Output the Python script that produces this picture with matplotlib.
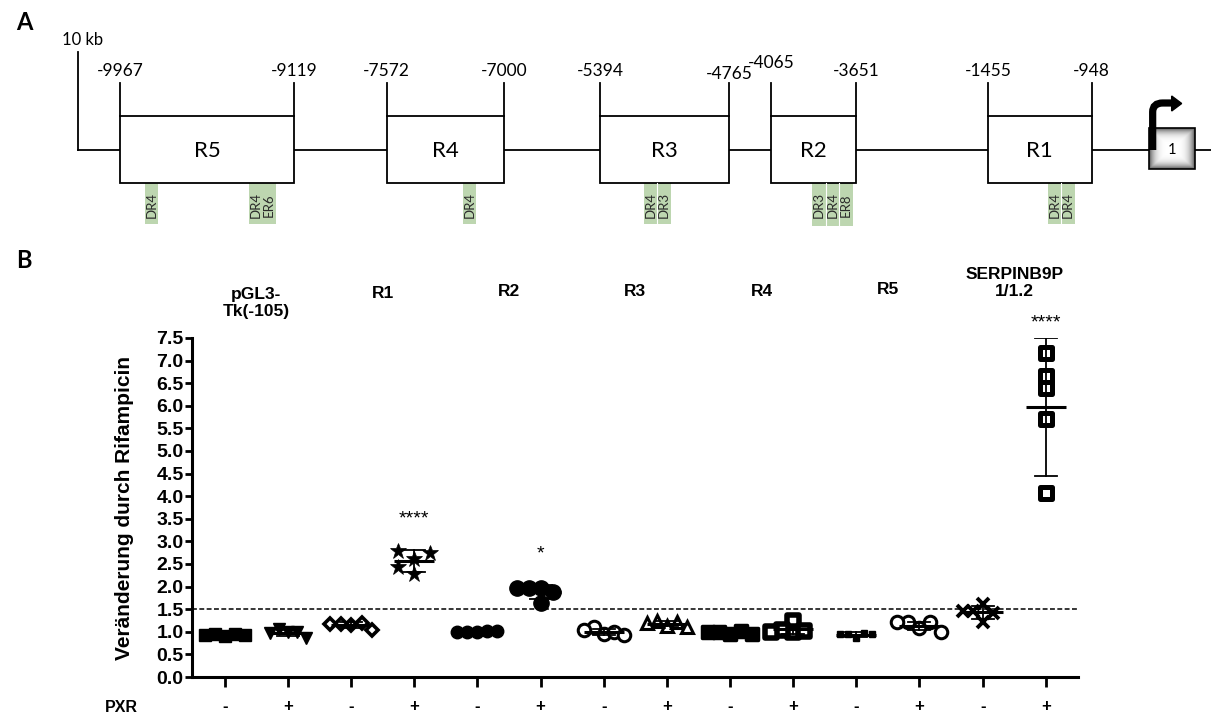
import numpy as np
import matplotlib
matplotlib.use("Agg")
import matplotlib.pyplot as plt
from matplotlib.patches import Rectangle, Polygon, PathPatch
from matplotlib.path import Path
from matplotlib.markers import MarkerStyle
from matplotlib.transforms import blended_transform_factory

# ------------------------------------------------------------------ data
# Panel A: promoter regions (bp relative to transcription start)
region_names = ["R5", "R4", "R3", "R2", "R1"]
region_starts = [-9967, -7572, -5394, -4065, -1455]
region_ends = [-9119, -7000, -4765, -3651, -948]
scale_label = "10 kb"
exon_label = "1"
motif_centers = [-9813, -9274, -7168, -5117, -3766, -1096]
motif_labels = [["DR4"], ["DR4", "ER6"], ["DR4"], ["DR4", "DR3"],
                ["DR3", "DR4", "ER8"], ["DR4", "DR4"]]

# Panel B: fold change by rifampicin
constructs = ["pGL3-\nTk(-105)", "R1", "R2", "R3", "R4", "R5", "SERPINB9P\n1/1.2"]
pxr_status = ["-", "+", "-", "+", "-", "+", "-", "+", "-", "+", "-", "+", "-", "+"]
values = [
    [0.90, 0.95, 0.95, 0.92, 0.93],
    [1.00, 1.06, 1.00, 0.97, 0.87],
    [1.15, 1.18, 1.20, 1.17, 1.05],
    [2.60, 2.78, 2.27, 2.74, 2.44],
    [1.00, 1.00, 1.01, 1.00, 1.01],
    [1.97, 1.98, 1.64, 1.88, 1.97],
    [0.95, 1.10, 1.00, 1.05, 0.92],
    [1.13, 1.25, 1.22, 1.20, 1.10],
    [0.95, 1.00, 1.02, 1.00, 0.95],
    [1.25, 1.00, 1.05, 1.02, 1.00],
    [0.86, 0.95, 0.97, 0.95, 0.96],
    [1.08, 1.22, 1.22, 1.22, 1.00],
    [1.62, 1.22, 1.45, 1.42, 1.45],
    [7.17, 6.66, 6.39, 5.70, 4.07],
]
means = [0.93, 0.98, 1.15, 2.57, 1.00, 1.88, 1.00, 1.18, 0.98, 1.06, 0.94, 1.13, 1.43, 5.97]
sds = [0.03, 0.07, 0.06, 0.24, 0.02, 0.15, 0.07, 0.06, 0.03, 0.10, 0.06, 0.09, 0.15, 1.52]
significance = ["", "", "", "****", "", "*", "", "", "", "", "", "", "", "****"]
significance_y = [0, 0, 0, 3.50, 0, 2.72, 0, 0, 0, 0, 0, 0, 0, 7.83]
threshold = 1.5
y_ticks = [0.0, 0.5, 1.0, 1.5, 2.0, 2.5, 3.0, 3.5, 4.0, 4.5, 5.0, 5.5, 6.0, 6.5, 7.0, 7.5]
y_label = "Veränderung durch Rifampicin"
row_label = "PXR"

# ------------------------------------------------------------------ style
W, H = 1211, 715
FA = ["Lato", "DejaVu Sans"]
FB = ["Liberation Sans Narrow", "Liberation Sans", "DejaVu Sans"]
GREEN = "#bdd6b0"

fig = plt.figure(figsize=(W / 100, H / 100), dpi=100)
fig.patch.set_facecolor("white")

# full-figure layout axes (pixel units, y downward)
axA = fig.add_axes([0, 0, 1, 1])
axA.set_xlim(0, W)
axA.set_ylim(H, 0)
axA.axis("off")

# ------------------------------------------------------------------ panel A
BOX_SCALE, GAP_SCALE, X_FIRST = 0.205, 0.06, 120.0
segs = []
for i in range(len(region_starts)):
    segs.append((region_starts[i], region_ends[i], BOX_SCALE))
    nxt = region_starts[i + 1] if i + 1 < len(region_starts) else 0
    segs.append((region_ends[i], nxt, GAP_SCALE))


def gx(bp):
    x = X_FIRST
    if bp <= segs[0][0]:
        return x - (segs[0][0] - bp) * GAP_SCALE
    for a, b, sc in segs:
        if bp <= b:
            return x + (bp - a) * sc
        x += (b - a) * sc
    return x + (bp - segs[-1][1]) * GAP_SCALE


BASE_Y, BOX_TOP, BOX_BOT, TICK_TOP, LAB_Y = 150, 116, 183, 83, 71
lw_a = 1.3
x_scale = gx(region_starts[0]) - 42
exon_x0 = gx(0)
exon_w = 46

axA.text(16, 23, "A", fontsize=17, fontweight="bold", family=FA, ha="left", va="center")
axA.text(16, 261, "B", fontsize=17, fontweight="bold", family=FA, ha="left", va="center")

axA.plot([x_scale, x_scale], [52, BASE_Y], color="black", lw=lw_a, zorder=2)
axA.plot([x_scale, W], [BASE_Y, BASE_Y], color="black", lw=lw_a, zorder=1)
axA.text(x_scale + 5, 40, scale_label, fontsize=12, family=FA, ha="center", va="center")

label_dy = {-4765: 3, -4065: -8}
for name, s, e in zip(region_names, region_starts, region_ends):
    x0, x1 = gx(s), gx(e)
    axA.add_patch(Rectangle((x0, BOX_TOP), x1 - x0, BOX_BOT - BOX_TOP, facecolor="white",
                            edgecolor="black", lw=lw_a, zorder=3))
    axA.text((x0 + x1) / 2, BASE_Y + 1, name, fontsize=16, family=FA, ha="center",
             va="center", zorder=4)
    for bp, xx in ((s, x0), (e, x1)):
        axA.plot([xx, xx], [TICK_TOP, BOX_TOP], color="black", lw=lw_a, zorder=3)
        axA.text(xx, LAB_Y + label_dy.get(bp, 0), "%d" % bp, fontsize=12.5, family=FA,
                 ha="center", va="center")

COL_W = 13.5
for c, labs in zip(motif_centers, motif_labels):
    xc = gx(c)
    n = len(labs)
    left = xc - n * COL_W / 2
    bot = 226 if n == 3 else 224
    for k, lab in enumerate(labs):
        axA.add_patch(Rectangle((left + k * COL_W, BOX_BOT), COL_W, bot - BOX_BOT,
                                facecolor=GREEN, edgecolor="none", zorder=2))
        axA.text(left + (k + 0.5) * COL_W, 205, lab, rotation=90, fontsize=9.5, family=FA,
                 color="#2a2a2a", ha="center", va="center", zorder=3)
        if k > 0 and lab != "ER6":
            axA.plot([left + k * COL_W] * 2, [BOX_BOT, bot], color="white", lw=0.8, zorder=3)

# exon box with grey gradient
g = np.linspace(-1, 1, 80)
U, V = np.meshgrid(g, g)
R = np.maximum(np.abs(U), np.abs(V))
shade = 1 - 0.65 * R ** 4
axA.imshow(shade, cmap="gray", vmin=0, vmax=1, extent=(exon_x0, exon_x0 + exon_w, 169, 128),
           aspect="auto", zorder=3, interpolation="bilinear")
axA.add_patch(Rectangle((exon_x0, 128), exon_w, 41, facecolor="none", edgecolor="black",
                        lw=1.2, zorder=4))
axA.text(exon_x0 + exon_w / 2, 150, exon_label, fontsize=10.5, family=FA, ha="center",
         va="center", zorder=5)
# bent arrow
sx = exon_x0 + 4
arrow_path = Path([(sx, 150), (sx, 112), (sx, 103), (sx + 10, 103), (exon_x0 + 24, 103)],
                  [Path.MOVETO, Path.LINETO, Path.CURVE3, Path.CURVE3, Path.LINETO])
axA.add_patch(PathPatch(arrow_path, facecolor="none", edgecolor="black", lw=5.2,
                        capstyle="butt", zorder=6))
axA.add_patch(Polygon([(exon_x0 + 23, 96), (exon_x0 + 33, 103.5), (exon_x0 + 23, 111)],
                      closed=True, facecolor="black", edgecolor="black", zorder=6))
axA.set_xlim(0, W)
axA.set_ylim(H, 0)

# ------------------------------------------------------------------ panel B
AX_L, AX_R, AX_B, AX_T = 192, 1078, 677, 338
axB = fig.add_axes([AX_L / W, (H - AX_B) / H, (AX_R - AX_L) / W, (AX_B - AX_T) / H])
ng = len(values)
axB.set_xlim(-0.52, ng - 1 + 0.51)
axB.set_ylim(0, 7.5)
axB.patch.set_alpha(0)
for sp in ("top", "right"):
    axB.spines[sp].set_visible(False)
for sp in ("left", "bottom"):
    axB.spines[sp].set_linewidth(2.2)
axB.set_yticks(y_ticks)
axB.set_yticklabels(["%.1f" % t for t in y_ticks], fontsize=14, fontweight="bold", family=FB)
axB.tick_params(axis="y", length=5, width=2, pad=1)
axB.set_xticks(range(ng))
axB.set_xticklabels([])
axB.tick_params(axis="x", length=7, width=2)

px_per_x = (AX_R - AX_L) / (axB.get_xlim()[1] - axB.get_xlim()[0])
px_per_y = (AX_B - AX_T) / 7.5

styles = [
    dict(marker="s", ms=8, mfc="k", mec="k", mew=1),
    dict(marker="v", ms=8.5, mfc="k", mec="k", mew=1),
    dict(marker="D", ms=6.5, mfc="w", mec="k", mew=2.6),
    dict(marker="*", ms=12, mfc="k", mec="k", mew=0.5),
    dict(marker="o", ms=9, mfc="k", mec="k", mew=1),
    dict(marker="o", ms=11, mfc="k", mec="k", mew=1),
    dict(marker="o", ms=9, mfc="w", mec="k", mew=2.2),
    dict(marker="^", ms=8, mfc="w", mec="k", mew=2.2),
    dict(marker=MarkerStyle("s", joinstyle="round"), ms=9, mfc="k", mec="k", mew=2.5),
    dict(marker=MarkerStyle("s", joinstyle="round"), ms=8, mfc="w", mec="k", mew=4),
    dict(marker="s", ms=4, mfc="k", mec="k", mew=1),
    dict(marker="o", ms=9, mfc="w", mec="k", mew=2.2),
    dict(marker="x", ms=9, mec="k", mew=2.8),
    dict(marker=MarkerStyle("s", joinstyle="round"), ms=9, mfc="w", mec="k", mew=3.6),
]
spread = [10, 9, 10.5, 16, 10, 12, 10, 10, 11, 11, 8, 11, 10, 12]
height = [10, 10, 10, 11, 10, 12, 10, 10, 10, 10, 5, 10, 10, 12]


def swarm(vals, step, h):
    placed, offs = [], []
    for v in vals:
        y = v * px_per_y
        for k in (0, -1, 1, -2, 2, -3, 3, -4, 4):
            x = k * step
            if all(not (abs(x - px) < step * 0.99 and abs(y - py) < h) for px, py in placed):
                break
        placed.append((x, y))
        offs.append(x / px_per_x)
    return offs


MEAN_HW = 20 / px_per_x
CAP_HW = 11 / px_per_x
for i, vals in enumerate(values):
    offs = swarm(vals, spread[i], height[i])
    axB.plot([i + o for o in offs], vals, linestyle="none", zorder=3, clip_on=False, **styles[i])
    m, s = means[i], sds[i]
    axB.plot([i - MEAN_HW, i + MEAN_HW], [m, m], color="black", lw=2.2, zorder=4,
             solid_capstyle="butt")
    axB.plot([i, i], [m - s, m + s], color="black", lw=1.3, zorder=4)
    for yy in (m - s, m + s):
        axB.plot([i - CAP_HW, i + CAP_HW], [yy, yy], color="black", lw=1.3, zorder=4)
    if significance[i]:
        axB.text(i, significance_y[i], significance[i], fontsize=14, family=["Liberation Sans"],
                 ha="center", va="center")

axB.axhline(threshold, color="black", lw=1.1, linestyle=(0, (3.2, 1.6)), zorder=2)

# headers, PXR row, y label
tr = blended_transform_factory(axB.transData, axA.transData)
header_y = [303, 293, 292, 292, 291, 289, 283]
for k, lab in enumerate(constructs):
    axB.text(2 * k + 0.5, header_y[k], lab, transform=tr, fontsize=12.5, fontweight="bold",
             family=FB, ha="center", va="center", linespacing=1.15)
for i, st in enumerate(pxr_status):
    axB.text(i, 707, st, transform=tr, fontsize=12, fontweight="bold", family=FB,
             ha="center", va="center")
axA.text(121, 707, row_label, fontsize=11.5, fontweight="bold", family=FB, ha="center", va="center")
axA.text(125, 508, y_label, rotation=90, fontsize=15, fontweight="bold", family=FB,
         ha="center", va="center")

fig.savefig("out.png", dpi=100)
